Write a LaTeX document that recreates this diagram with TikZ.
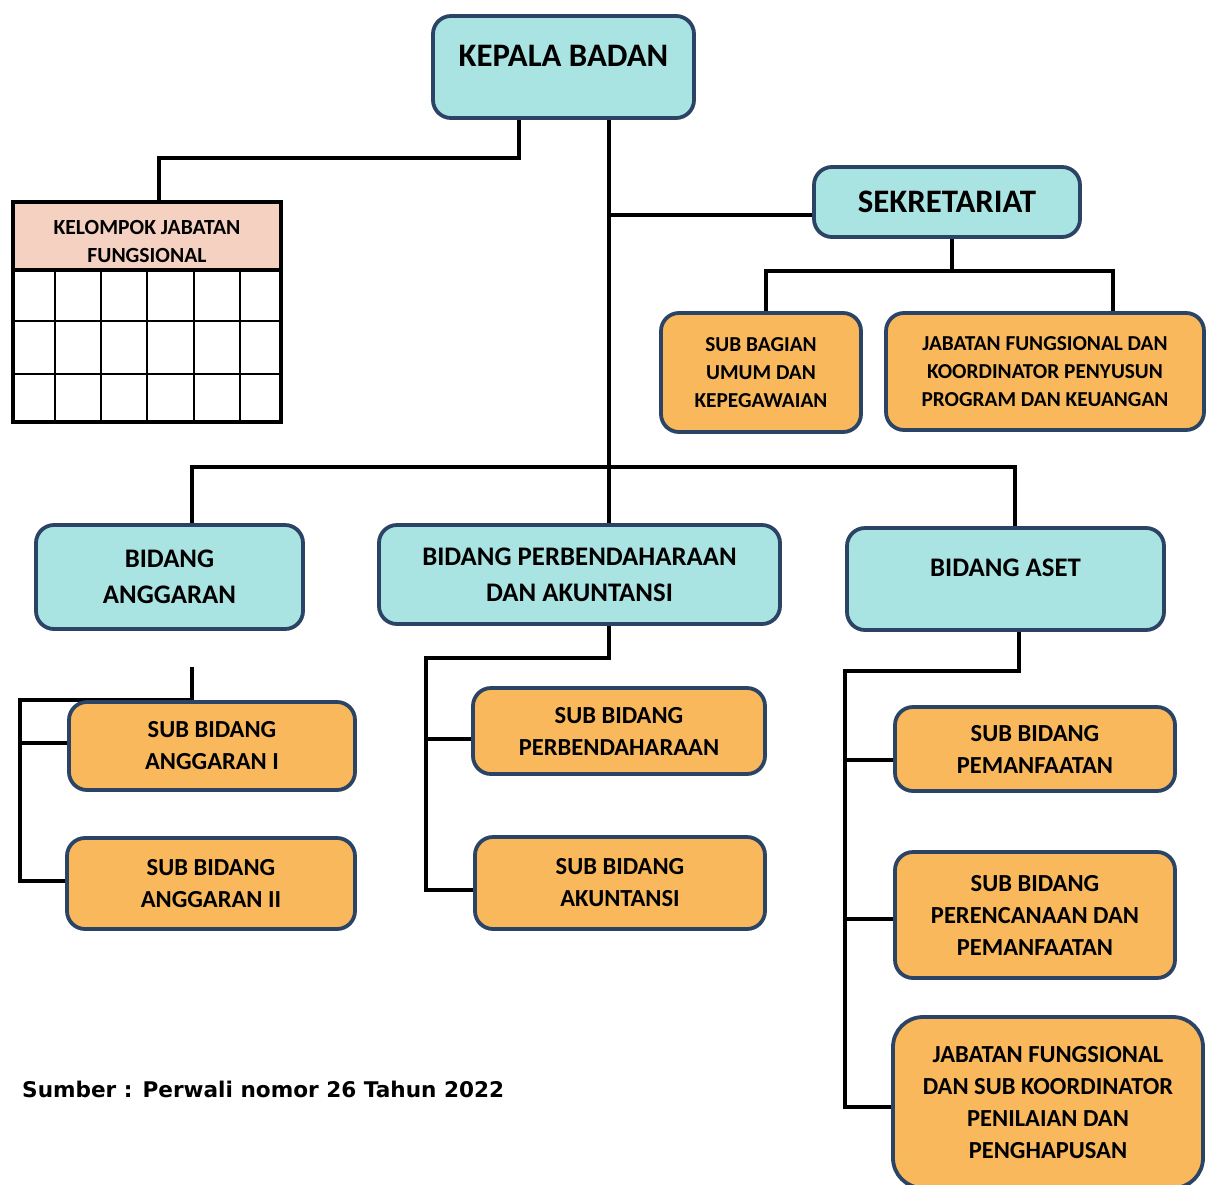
\documentclass[tikz,border=0pt]{standalone}
\usepackage{fontspec}
\setmainfont{Carlito}
\newfontfamily\srcfont{DejaVu Sans}
\usetikzlibrary{backgrounds}
\definecolor{tealfill}{HTML}{A9E4E3}
\definecolor{navyline}{HTML}{2B4465}
\definecolor{orangefill}{HTML}{F8B85B}
\definecolor{pinkfill}{HTML}{F4D1C1}
\newcommand\obox[7]{\node[#6,minimum width={#4-#2-4},minimum height={#5-#3-4}] (#1) at ({(#2+#4)/2},{(#3+#5)/2}) {#7};}
\begin{document}
\begin{tikzpicture}[x=1pt,y=-1pt,
  basebox/.style={draw=navyline,line width=3.8pt,rounded corners=18pt,align=center,inner sep=0pt},
  tealbox/.style={basebox,fill=tealfill},
  orangebox/.style={basebox,fill=orangefill},
  fbig/.style={font=\bfseries\fontsize{32.8}{36}\selectfont},
  fbid/.style={font=\bfseries\fontsize{26.8}{36}\selectfont},
  fsub/.style={font=\bfseries\fontsize{24.5}{32}\selectfont},
  fsmall/.style={font=\bfseries\fontsize{21.3}{28}\selectfont},
  fhdr/.style={font=\bfseries\fontsize{21.6}{28}\selectfont},
  conn/.style={line width=3.8pt,black,line join=miter},
  gridline/.style={line width=2pt,black}]
\useasboundingbox (0,0) rectangle (1210,1184);

% top
\obox{kb}{431}{14}{696}{120}{tealbox}{}
\node[fbig] (kbt) at ([yshift=11]kb.center) {KEPALA BADAN};
\obox{sek}{812}{165}{1082}{239}{tealbox,fbig}{SEKRETARIAT}
\obox{sba}{659}{311}{863}{434}{orangebox,fsmall}{SUB BAGIAN\\UMUM DAN\\KEPEGAWAIAN}
\obox{jfk}{884}{311}{1206}{432}{orangebox,fsmall}{JABATAN FUNGSIONAL DAN\\KOORDINATOR PENYUSUN\\PROGRAM DAN KEUANGAN}

% table
\obox{hdr}{11}{200}{283}{272}{draw=black,line width=3.8pt,fill=pinkfill,inner sep=0pt}{}
\node[fhdr,align=center,inner sep=0pt] (hdrt) at ([yshift=-5]hdr.center) {KELOMPOK JABATAN\\FUNGSIONAL};
\obox{grid}{11}{268}{283}{424}{draw=black,line width=3.8pt,fill=white}{}
\foreach \gx in {55,101,147,194,240} \draw[gridline] (\gx,271) -- (\gx,423);
\foreach \gy in {321,374} \draw[gridline] (12,\gy) -- (282,\gy);

% bidang
\obox{ba}{34}{523}{305}{631}{tealbox,fbid}{BIDANG\\ANGGARAN}
\obox{bp}{377}{523}{782}{626}{tealbox,fbid}{BIDANG PERBENDAHARAAN\\DAN AKUNTANSI}
\obox{bas}{845}{526}{1166}{632}{tealbox}{}
\node[fbid] (bast) at ([yshift=11]bas.center) {BIDANG ASET};

% sub bidang
\obox{sa1}{67}{700}{357}{792}{orangebox,fsub}{SUB BIDANG\\ANGGARAN I}
\obox{sa2}{65}{836}{357}{931}{orangebox,fsub}{SUB BIDANG\\ANGGARAN II}
\obox{spb}{471}{686}{767}{776}{orangebox,fsub}{SUB BIDANG\\PERBENDAHARAAN}
\obox{sak}{473}{835}{767}{931}{orangebox,fsub}{SUB BIDANG\\AKUNTANSI}
\obox{spm}{893}{705}{1177}{793}{orangebox,fsub}{SUB BIDANG\\PEMANFAATAN}
\obox{spr}{893}{850}{1177}{980}{orangebox,fsub}{SUB BIDANG\\PERENCANAAN DAN\\PEMANFAATAN}
\obox{sjf}{891}{1015}{1205}{1190}{orangebox,fsub,rounded corners=30pt}{JABATAN FUNGSIONAL\\DAN SUB KOORDINATOR\\PENILAIAN DAN\\PENGHAPUSAN}

\node[anchor=west,font=\srcfont\bfseries\fontsize{21.6}{26}\selectfont,inner sep=0pt] (src) at (22,1089) {Sumber : Perwali nomor 26 Tahun 2022};

% connectors
\coordinate (c1) at (519,158); \coordinate (c2) at (159,158);
\coordinate (t1) at (609,467); \coordinate (t2) at (609,215);
\coordinate (s1) at (952,271); \coordinate (s2) at (766,271); \coordinate (s3) at (1113,271);
\coordinate (h1) at (192,467); \coordinate (h2) at (1015,467);
\coordinate (a0) at (192,667); \coordinate (a1) at (192,700); \coordinate (a2) at (20,700);
\coordinate (a3) at (20,881); \coordinate (a4) at (20,743);
\coordinate (p1) at (609,658); \coordinate (p2) at (426,658); \coordinate (p3) at (426,890); \coordinate (p4) at (426,739);
\coordinate (q1) at (1019,671); \coordinate (q2) at (845,671); \coordinate (q3) at (845,1107);
\coordinate (q4) at (845,760); \coordinate (q5) at (845,919);

\begin{pgfonlayer}{background}
\draw[conn] (kb.south -| c1) -- (c1) -- (c2) -- (hdr.north -| c2);
\draw[conn] (kb.south -| t1) -- (t1) -- (bp.north -| t1);
\draw[conn] (t2) -- (sek.west |- t2);
\draw[conn] (sek.south -| s1) -- (s1);
\draw[conn] (sba.north -| s2) -- (s2) -- (s3) -- (jfk.north -| s3);
\draw[conn] (ba.north -| h1) -- (h1) -- (h2) -- (bas.north -| h2);
\draw[conn] (a0) -- (a1) -- (a2) -- (a3) -- (sa2.west |- a3);
\draw[conn] (a4) -- (sa1.west |- a4);
\draw[conn] (bp.south -| p1) -- (p1) -- (p2) -- (p3) -- (sak.west |- p3);
\draw[conn] (p4) -- (spb.west |- p4);
\draw[conn] (bas.south -| q1) -- (q1) -- (q2) -- (q3) -- (sjf.west |- q3);
\draw[conn] (q4) -- (spm.west |- q4);
\draw[conn] (q5) -- (spr.west |- q5);
\end{pgfonlayer}
\end{tikzpicture}
\end{document}
